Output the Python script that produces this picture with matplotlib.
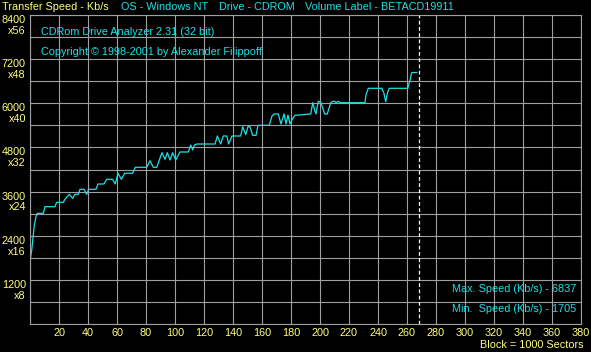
import matplotlib
matplotlib.use('Agg')
import matplotlib.pyplot as plt
import matplotlib.transforms as mtransforms

# speed curve (block number, Kb/s)
blocks = [0, 1.2, 1.9, 3.0, 4.1, 5.0, 9.2, 10.3, 17.2, 18.4, 23.0, 24.1, 27.1, 29.4, 31.0,
          33.3, 34.5, 37.2, 39.1, 40.5, 45.5, 46.9, 51.0, 52.9, 57.0, 58.8, 60.7, 63.0, 65.3,
          70.8, 72.6, 80.5, 82.8, 85.0, 87.4, 91.0, 93.1, 94.7, 96.6, 98.4, 100.5, 103.4, 109.2,
          110.8, 112.2, 113.3, 115.0, 127.6, 129.2, 131.5, 133.3, 135.7, 137.0, 139.3, 145.3,
          146.7, 148.8, 150.3, 151.7, 153.6, 155.9, 157.2, 165.0, 166.9, 168.3, 171.2, 173.1,
          175.2, 176.6, 177.9, 179.3, 181.2, 182.8, 193.6, 195.0, 196.3, 197.2, 198.8, 200.5,
          203.2, 205.0, 207.4, 208.8, 210.1, 211.0, 212.6, 214.3, 231.0, 231.7, 233.3, 242.6,
          244.1, 245.3, 246.7, 247.8, 260.5, 262.1, 262.8, 263.4, 266.7]
speed = [1705, 2012, 2283, 2691, 2917, 3009, 3009, 3189, 3189, 3308, 3308, 3390, 3526, 3417, 3526,
         3526, 3662, 3662, 3526, 3662, 3662, 3806, 3806, 3934, 3934, 3806, 4097, 3934, 4097,
         4097, 4260, 4260, 4439, 4260, 4260, 4657, 4477, 4657, 4458, 4657, 4458, 4676, 4676,
         4866, 4730, 4858, 4893, 4893, 5111, 4893, 5111, 5111, 4893, 5111, 5111,
         5364, 5146, 5364, 5364, 5129, 5129, 5401, 5401, 5654, 5709, 5709, 5437,
         5709, 5437, 5681, 5437, 5592, 5673, 5709, 6016, 5817, 5709, 6054, 6035,
         5709, 5709, 6016, 6054, 6054, 6016, 6054, 6016, 6016, 6225, 6407, 6407,
         6271, 6043, 6307, 6407, 6407, 6633, 6769, 6837, 6837]

disc_end = 268
y_major = [1200, 2400, 3600, 4800, 6000, 7200, 8400]
y_mult = ['x8', 'x16', 'x24', 'x32', 'x40', 'x48', 'x56']
x_ticks = list(range(0, 381, 20))
max_speed = 6837
min_speed = 1705

W, H = 591, 352
bg = 'black'
grid_c = '#a0a0a4'
yel = '#ffff80'
cyan = '#1ee0e6'
fnt = 'Liberation Sans'
fs = 7.8

fig = plt.figure(figsize=(W / 100, H / 100), dpi=100, facecolor=bg)
ax = fig.add_axes([30 / W, (H - 324) / H, 551 / W, 309 / H], facecolor=bg)
ax.set_xlim(0, 380)
ax.set_ylim(0, 8400)

ax.set_xticks(x_ticks)
ax.set_xticklabels(['' if t == 0 else str(t) for t in x_ticks], color=yel,
                   fontsize=fs, family=fnt)
ax.set_yticks(range(0, 8401, 600))
ax.set_yticklabels([])
ax.tick_params(length=0, pad=3)
ax.grid(True, color=grid_c, lw=0.8)
for s in ax.spines.values():
    s.set_color(grid_c)
    s.set_linewidth(0.8)

ax.plot(blocks, speed, color=cyan, lw=0.9)
ax.axvline(disc_end, color='white', lw=0.9, ls=(0, (3, 2)))

# y labels: speed over multiplier, to the left of the plot
tr = mtransforms.blended_transform_factory(ax.transAxes, ax.transData)
for v, m in zip(y_major, y_mult):
    ax.text(-4 / 551, v, str(v) + '\n' + m, transform=tr, ha='right', va='top',
            color=yel, fontsize=fs, family=fnt, linespacing=1.1)

def ftext(x, y, s, **kw):
    fig.text(x / W, 1 - y / H, s, fontsize=fs, family=fnt, va='center', **kw)

ftext(2, 7, 'Transfer Speed - Kb/s', color=yel)
ftext(121, 7, 'OS - Windows NT', color=cyan)
ftext(219, 7, 'Drive - CDROM', color=cyan)
ftext(305, 7, 'Volume Label - BETACD19911', color=cyan)
ftext(41, 32, 'CDRom Drive Analyzer 2.31 (32 bit)', color=cyan)
ftext(41, 52, 'Copyright \u00a9 1998-2001 by Alexander Filippoff', color=cyan)
ftext(576, 289, 'Max. Speed (Kb/s) - %d' % max_speed, color=cyan, ha='right')
ftext(576, 309, 'Min.  Speed (Kb/s) - %d' % min_speed, color=cyan, ha='right')
ftext(583, 345, 'Block = 1000 Sectors', color=yel, ha='right')

fig.savefig('out.png', dpi=100, facecolor=bg)
